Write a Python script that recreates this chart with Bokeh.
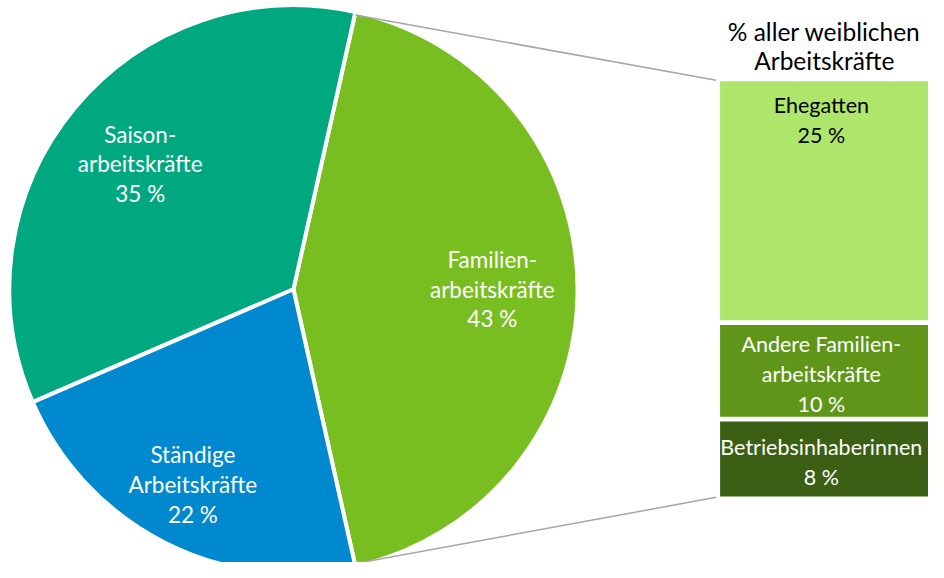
import math
from bokeh.plotting import figure
from bokeh.models import Range1d
from bokeh.embed import file_html
from bokeh.resources import INLINE
from bokeh.core.properties import value

# ---- data ----
pie_labels = ["Familien-\narbeitskräfte", "Saison-\narbeitskräfte", "Ständige\nArbeitskräfte"]
pie_values = [43, 35, 22]
pie_colors = ["#78BE20", "#00A87F", "#0089CF"]

bar_labels = ["Ehegatten", "Andere Familien-\narbeitskräfte", "Betriebsinhaberinnen"]
bar_values = [25, 10, 8]
bar_colors = ["#AEE66B", "#5F961A", "#3B6014"]
bar_text_colors = ["#000000", "#FFFFFF", "#FFFFFF"]

bar_title = "% aller weiblichen\nArbeitskräfte"

# ---- layout ----
W, H = 928, 562
FONT = "Lato"
FS = "22.5px"
LH = 1.10

p = figure(width=W, height=H, output_backend="svg", toolbar_location=None,
           x_range=Range1d(0, 944), y_range=Range1d(0, 578),
           min_border=0)
p.axis.visible = False
p.grid.visible = False
p.outline_line_color = None
p.background_fill_color = "white"
p.border_fill_color = "white"

def Y(yref):
    return 578 - yref

cx, cy, r = 298, Y(297), 289
total = sum(pie_values)

# pie slices, first slice centred at angle 0 (pointing to the bar)
start = -pie_values[0] / total * math.pi
angles = []
for v in pie_values:
    end = start + v / total * 2 * math.pi
    angles.append((start, end))
    start = end

p.wedge(x=[cx] * 3, y=[cy] * 3, radius=r,
        start_angle=[a[0] for a in angles], end_angle=[a[1] for a in angles],
        fill_color=pie_colors, line_color="white", line_width=4)

label_r = [0.70, 0.70, 0.78]
lx, ly, lt = [], [], []
for (a0, a1), lab, v, f in zip(angles, pie_labels, pie_values, label_r):
    m = (a0 + a1) / 2
    lx.append(cx + f * r * math.cos(m))
    ly.append(cy + f * r * math.sin(m))
    lt.append(f"{lab}\n{v} %")
p.text(x=lx, y=ly, text=lt, text_align="center", text_baseline="middle",
       text_color="white", text_font=value(FONT), text_font_size=FS,
       text_line_height=LH)

# bar of pie
bx0, bx1 = 732, 944
btop = Y(83)
scale = 427 / sum(bar_values)
gap = 2.5
tops, bottoms = [], []
cur = btop
for v in bar_values:
    tops.append(cur)
    bottoms.append(cur - v * scale)
    cur -= v * scale
q_top = [t - (gap if i > 0 else 0) for i, t in enumerate(tops)]
q_bot = [b + (gap if i < len(bar_values) - 1 else 0) for i, b in enumerate(bottoms)]
p.quad(left=bx0, right=bx1, top=q_top, bottom=q_bot, fill_color=bar_colors,
       line_color=None)

bcx = 835
bly = []
for i, (t, b) in enumerate(zip(q_top, q_bot)):
    if i == 0:
        bly.append(t - 40)
    else:
        bly.append((t + b) / 2 - 3)
blt = [f"{lab}\n{v} %" for lab, v in zip(bar_labels, bar_values)]
p.text(x=[bcx] * 3, y=bly, text=blt, text_align="center", text_baseline="middle",
       text_color=bar_text_colors, text_font=value(FONT), text_font_size="21.5px",
       text_line_height=1.15)

p.text(x=[838], y=[Y(47)], text=[bar_title], text_align="center",
       text_baseline="middle", text_color="black", text_font=value(FONT),
       text_font_size="24.5px", text_line_height=1.0)

# connector lines
a_top, a_bot = angles[0][1], angles[0][0]
p.segment(x0=[cx + r * math.cos(a_top), cx + r * math.cos(a_bot)],
          y0=[cy + r * math.sin(a_top), cy + r * math.sin(a_bot)],
          x1=[bx0 - 4, bx0 - 4], y1=[btop + 1, btop - sum(bar_values) * scale - 1],
          line_color="#A6A6A6", line_width=1.5)

open("out.html", "w").write(file_html(p, INLINE))
